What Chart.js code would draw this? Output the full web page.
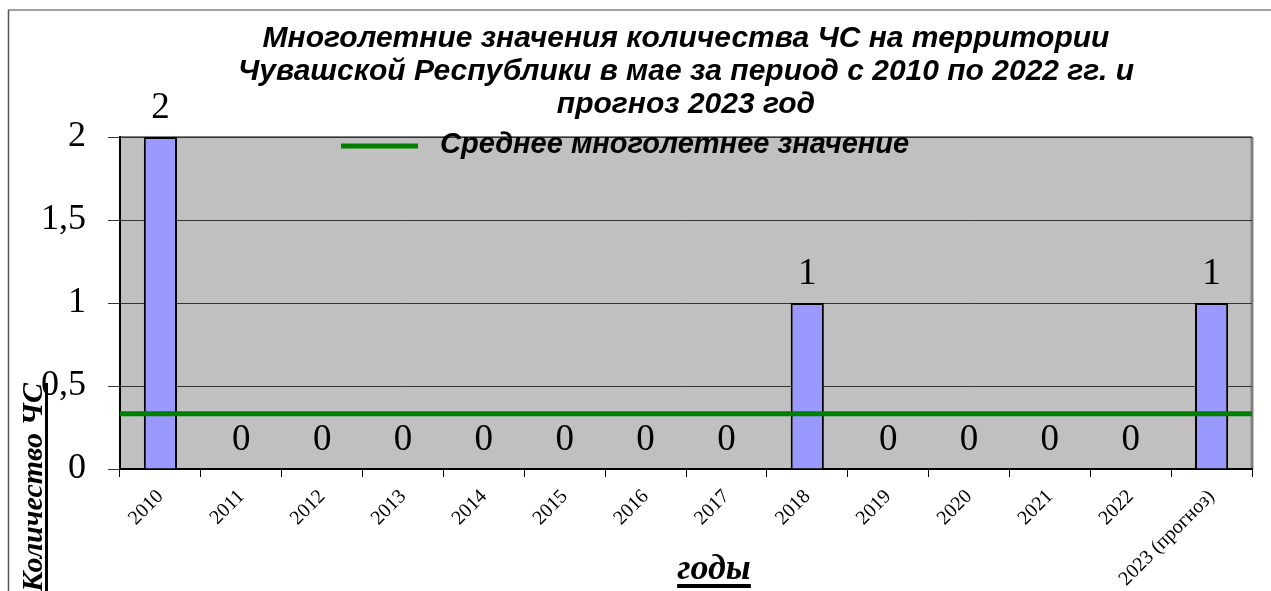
<!DOCTYPE html>
<html>
<head>
<meta charset="utf-8">
<script src="https://cdn.jsdelivr.net/npm/chart.js@4.4.1/dist/chart.umd.min.js"></script>
<style>
  body { margin: 0; background: #fff; }
  #wrap { width: 1271px; height: 591px; }
</style>
</head>
<body>
<div id="wrap"><canvas id="chsChart" width="1271" height="591"></canvas></div>
<script>
// годы и количество ЧС в мае
const years = ["2010", "2011", "2012", "2013", "2014", "2015", "2016", "2017",
  "2018", "2019", "2020", "2021", "2022", "2023 (прогноз)"];
const counts = [2, 0, 0, 0, 0, 0, 0, 0, 1, 0, 0, 0, 0, 1];
const avgValue = 0.333;
const avgLabel = "Среднее многолетнее значение";
const titleLines = [
  "Многолетние значения количества ЧС на территории",
  "Чувашской Республики в мае за период с 2010 по 2022 гг. и",
  "прогноз 2023 год"
];

const serif = "'Liberation Serif', 'Times New Roman', serif";
const sans = "'Liberation Sans', Arial, sans-serif";

// серый фон области построения, рамка диаграммы
const plotBackground = {
  id: "plotBackground",
  beforeDraw(chart) {
    const { ctx, chartArea: a } = chart;
    ctx.save();
    ctx.fillStyle = "#c0c0c0";
    ctx.fillRect(a.left, a.top, a.right - a.left, a.bottom - a.top);
    ctx.strokeStyle = "#808080";
    ctx.lineWidth = 2;
    ctx.beginPath();
    ctx.moveTo(a.left, a.top);
    ctx.lineTo(a.right, a.top);
    ctx.stroke();
    ctx.lineWidth = 3;
    ctx.beginPath();
    ctx.moveTo(a.right, a.top);
    ctx.lineTo(a.right, a.bottom);
    ctx.stroke();

    // внешняя рамка
    ctx.strokeStyle = "#a0a0a0";
    ctx.lineWidth = 2;
    ctx.beginPath();
    ctx.moveTo(8, 10);
    ctx.lineTo(chart.width, 10);
    ctx.stroke();
    ctx.strokeStyle = "#555";
    ctx.lineWidth = 1.5;
    ctx.beginPath();
    ctx.moveTo(8.5, 10);
    ctx.lineTo(8.5, chart.height);
    ctx.stroke();
    ctx.restore();
  }
};

// подписи значений над столбцами, легенда и названия осей
const extras = {
  id: "extras",
  afterDraw(chart) {
    const { ctx } = chart;
    const meta = chart.getDatasetMeta(0);
    ctx.save();
    ctx.fillStyle = "#000";
    ctx.font = "37px " + serif;
    ctx.textAlign = "center";
    ctx.textBaseline = "alphabetic";
    meta.data.forEach((bar, i) => {
      ctx.fillText(String(counts[i]), bar.x, bar.y - 19);
    });

    // легенда
    ctx.strokeStyle = "#008000";
    ctx.lineWidth = 5;
    ctx.beginPath();
    ctx.moveTo(341, 146);
    ctx.lineTo(418, 146);
    ctx.stroke();
    ctx.font = "italic bold 29px " + sans;
    ctx.textAlign = "left";
    ctx.fillText(avgLabel, 440, 153);

    // ось X
    ctx.font = "italic bold 36px " + serif;
    ctx.textAlign = "center";
    ctx.fillText("годы", 714, 579);
    const w = ctx.measureText("годы").width;
    ctx.fillRect(714 - w / 2, 584, w, 4);

    // ось Y
    ctx.translate(42, 383);
    ctx.rotate(-Math.PI / 2);
    ctx.font = "italic bold 30px " + serif;
    ctx.textAlign = "right";
    ctx.fillText("Количество ЧС", 0, 0);
    const wy = ctx.measureText("Количество ЧС").width;
    ctx.fillRect(-wy, 3, wy, 3);
    ctx.restore();
  }
};

const ctx = document.getElementById("chsChart");
new Chart(ctx, {
  data: {
    labels: years,
    datasets: [{
      type: "bar",
      label: "Количество ЧС",
      data: counts,
      backgroundColor: "#9999ff",
      borderColor: "#000",
      borderWidth: 2,
      grouped: false,
      barPercentage: 0.41,
      categoryPercentage: 1,
      order: 1
    }, {
      type: "line",
      label: avgLabel,
      data: [{ x: 0, y: avgValue }, { x: 1, y: avgValue }],
      xAxisID: "xAvg",
      borderColor: "#008000",
      borderWidth: 5,
      pointRadius: 0,
      clip: false,
      order: 0
    }]
  },
  options: {
    responsive: false,
    animation: false,
    layout: { padding: { top: 0, left: 0, right: 19, bottom: 0 } },
    plugins: {
      legend: { display: false },
      tooltip: { enabled: false },
      title: {
        display: true,
        fullSize: false,
        text: titleLines,
        color: "#000",
        font: { family: sans, size: 30, style: "italic", weight: "bold", lineHeight: 1.1 },
        padding: { top: 22, bottom: 16 }
      }
    },
    scales: {
      x: {
        type: "category",
        afterFit: (scale) => { scale.height = 122; },
        grid: { drawOnChartArea: false, drawTicks: true, tickLength: 8, color: "#000" },
        border: { color: "#000", width: 2 },
        ticks: {
          autoSkip: false,
          minRotation: 45,
          maxRotation: 45,
          color: "#000",
          padding: 8,
          font: { family: serif, size: 20 }
        }
      },
      xAvg: {
        type: "linear",
        min: 0,
        max: 1,
        display: false
      },
      y: {
        min: 0,
        max: 2,
        afterFit: (scale) => { scale.width = 120; },
        grid: { color: "#333", lineWidth: 1, tickLength: 12 },
        border: { color: "#000", width: 2 },
        ticks: {
          stepSize: 0.5,
          color: "#000",
          padding: 22,
          font: { family: serif, size: 36 },
          callback: (v) => String(v).replace(".", ",")
        }
      }
    }
  },
  plugins: [plotBackground, extras]
});
</script>
</body>
</html>
